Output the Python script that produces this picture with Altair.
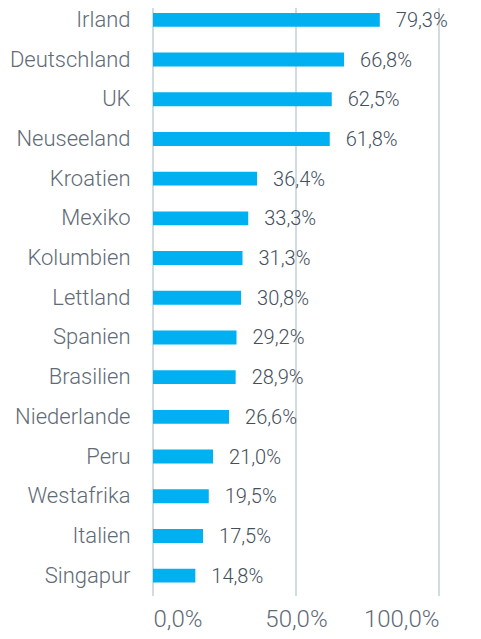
import altair as alt
import pandas as pd

countries = ["Irland", "Deutschland", "UK", "Neuseeland", "Kroatien", "Mexiko",
             "Kolumbien", "Lettland", "Spanien", "Brasilien", "Niederlande",
             "Peru", "Westafrika", "Italien", "Singapur"]
values = [79.3, 66.8, 62.5, 61.8, 36.4, 33.3, 31.3, 30.8, 29.2, 28.9, 26.6,
          21.0, 19.5, 17.5, 14.8]
grid_vals = [0, 50, 100]

df = pd.DataFrame({"land": countries, "wert": values})
df["label"] = df["wert"].map(lambda v: f"{v:.1f}".replace(".", ",") + "%")
gdf = pd.DataFrame({"g": grid_vals})

FONT = "Roboto"
xscale = alt.Scale(domain=[0, 100], nice=False, zero=True)
yscale = alt.Scale(domain=countries, range=[-8, 587.5], paddingInner=0.65, paddingOuter=0.325)

grid = alt.Chart(gdf).mark_rule(color="#d3dbe2", strokeWidth=2).encode(
    x=alt.X("g:Q", scale=xscale,
            axis=alt.Axis(values=grid_vals, grid=False, domain=False, ticks=False,
                          labelExpr="replace(format(datum.value, '.1f'), '.', ',') + '%'",
                          labelFont=FONT, labelFontSize=24, labelFontWeight=300,
                          labelColor="#5f6b76", labelPadding=11, title=None)),
    y=alt.value(-8), y2=alt.value(588)
)

bars = alt.Chart(df).mark_bar(color="#00B0F0").encode(
    x=alt.X("wert:Q", scale=xscale),
    y=alt.Y("land:N", scale=yscale, sort=countries,
            axis=alt.Axis(domain=False, ticks=False, grid=False, title=None,
                          labelFont=FONT, labelFontSize=22, labelFontWeight=300,
                          labelColor="#5f6b76", labelPadding=23))
)

texts = alt.Chart(df).mark_text(align="left", baseline="middle", dx=16, dy=1,
                                font=FONT, fontSize=20, fontWeight=300,
                                color="#44505c").encode(
    x=alt.X("wert:Q", scale=xscale),
    y=alt.Y("land:N", scale=yscale, sort=countries),
    text="label:N"
)

chart = alt.layer(grid, bars, texts).properties(
    width=286, height=588,
    autosize=alt.AutoSizeParams(type="none"),
    padding={"left": 145, "top": 0, "right": 34, "bottom": 35}
).configure_view(stroke=None)

chart.save("out.html", embed_options={"renderer": "svg", "actions": False})
